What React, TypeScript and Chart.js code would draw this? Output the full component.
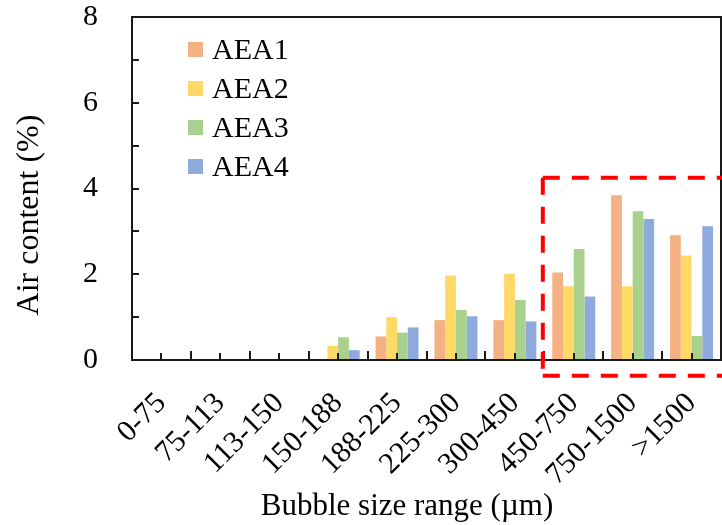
import React, { useEffect, useRef } from 'react';
import { Chart, registerables } from 'chart.js';

Chart.register(...registerables);

const categories = ['0-75', '75-113', '113-150', '150-188', '188-225', '225-300', '300-450', '450-750', '750-1500', '>1500'];
const aea1 = [0, 0, 0, 0, 0.55, 0.93, 0.93, 2.04, 3.84, 2.91];
const aea2 = [0, 0, 0, 0.33, 1.0, 1.97, 2.01, 1.72, 1.72, 2.44];
const aea3 = [0, 0, 0, 0.53, 0.64, 1.17, 1.4, 2.59, 3.47, 0.56];
const aea4 = [0, 0, 0, 0.23, 0.76, 1.02, 0.9, 1.48, 3.29, 3.12];
const seriesNames = ['AEA1', 'AEA2', 'AEA3', 'AEA4'];
const seriesColors = ['#F4B183', '#FFD966', '#A9D18E', '#8FAADC'];
const yMin = 0;
const yMax = 8;
const yLabelStep = 2;
const yMinorStep = 1;
const xTitle = 'Bubble size range (µm)';
const yTitle = 'Air content (%)';
// highlighted region (data units): from category boundary 6.5 to beyond the last category, y from 4.25 down to -0.37
const boxFromCategory = 6.5;
const boxTop = 4.25;
const boxBottom = -0.37;

const SERIF = '"Times New Roman", "Liberation Serif", serif';
const INK = '#1a1a1a';

const decor = {
  id: 'decor',
  afterDatasetsDraw(chart: any) {
    const { ctx, chartArea: a, scales } = chart;
    const x = scales.x;
    const y = scales.y;
    ctx.save();
    ctx.strokeStyle = INK;
    ctx.lineWidth = 2;
    ctx.strokeRect(a.left, a.top, a.right - a.left, a.bottom - a.top);
    for (let v = yMin + yMinorStep; v < yMax; v += yMinorStep) {
      const py = Math.round(y.getPixelForValue(v));
      ctx.beginPath();
      ctx.moveTo(a.left, py);
      ctx.lineTo(a.left + 7, py);
      ctx.stroke();
    }
    for (let i = 0; i < categories.length; i++) {
      const pb = Math.round(x.getPixelForValue(i - 0.5));
      if (i > 0) {
        ctx.beginPath();
        ctx.moveTo(pb, a.bottom);
        ctx.lineTo(pb, a.bottom - 9);
        ctx.stroke();
      }
      const pc = Math.round(x.getPixelForValue(i));
      ctx.beginPath();
      ctx.moveTo(pc, a.bottom);
      ctx.lineTo(pc, a.bottom - 7);
      ctx.stroke();
    }
    const bx = x.getPixelForValue(boxFromCategory) - 1.5;
    const by1 = y.getPixelForValue(boxTop);
    const by2 = y.getPixelForValue(boxBottom);
    ctx.strokeStyle = '#FF0000';
    ctx.lineWidth = 4;
    ctx.setLineDash([17, 12]);
    ctx.beginPath();
    ctx.moveTo(bx, by1);
    ctx.lineTo(chart.width + 20, by1);
    ctx.stroke();
    ctx.beginPath();
    ctx.moveTo(bx, by1);
    ctx.lineTo(bx, by2);
    ctx.stroke();
    ctx.beginPath();
    ctx.moveTo(bx, by2);
    ctx.lineTo(chart.width + 20, by2);
    ctx.stroke();
    ctx.restore();
  },
  afterDraw(chart: any) {
    const { ctx } = chart;
    ctx.save();
    ctx.font = `30px ${SERIF}`;
    ctx.textBaseline = 'alphabetic';
    ctx.textAlign = 'left';
    for (let i = 0; i < seriesNames.length; i++) {
      const cy = 49.5 + 39 * i;
      ctx.fillStyle = seriesColors[i];
      ctx.fillRect(188, cy - 7.5, 15, 15);
      ctx.fillStyle = '#000';
      ctx.fillText(seriesNames[i], 212, cy + 9);
    }
    ctx.font = `31px ${SERIF}`;
    ctx.textAlign = 'center';
    ctx.fillText(xTitle, 407, 515);
    ctx.translate(30, 215);
    ctx.rotate(-Math.PI / 2);
    ctx.font = `32px ${SERIF}`;
    ctx.textBaseline = 'middle';
    ctx.fillText(yTitle, 0, 0);
    ctx.restore();
  },
};

export default function App() {
  const ref = useRef<HTMLCanvasElement>(null);
  useEffect(() => {
    const series = [aea1, aea2, aea3, aea4];
    const chart = new Chart(ref.current as HTMLCanvasElement, {
      type: 'bar',
      data: {
        labels: categories,
        datasets: series.map((d, i) => ({
          label: seriesNames[i],
          data: d,
          backgroundColor: seriesColors[i],
          borderWidth: 0,
          categoryPercentage: 0.73,
          barPercentage: 1,
        })),
      },
      options: {
        animation: false,
        responsive: false,
        layout: { padding: { top: 17, right: 1, left: 0, bottom: 0 } },
        plugins: { legend: { display: false }, tooltip: { enabled: false } },
        scales: {
          x: {
            grid: { display: false, drawTicks: true, tickLength: 26 },
            border: { display: false },
            ticks: {
              autoSkip: false,
              maxRotation: 45,
              minRotation: 45,
              padding: 2,
              color: '#000',
              font: { family: SERIF, size: 30, lineHeight: 1 },
            },
            afterFit: (s: any) => {
              s.height = 165;
            },
          },
          y: {
            min: yMin,
            max: yMax,
            grid: { display: false, drawTicks: true, tickLength: 34 },
            border: { display: false },
            ticks: {
              stepSize: yLabelStep,
              padding: 0,
              color: '#000',
              font: { family: SERIF, size: 30, lineHeight: 1 },
            },
            afterFit: (s: any) => {
              s.width = 132;
            },
          },
        },
      },
      plugins: [decor],
    } as any);
    return () => chart.destroy();
  }, []);
  return (
    <div style={{ position: 'absolute', left: 0, top: 0, width: 722, height: 525 }}>
      <canvas ref={ref} width={722} height={525} />
    </div>
  );
}
